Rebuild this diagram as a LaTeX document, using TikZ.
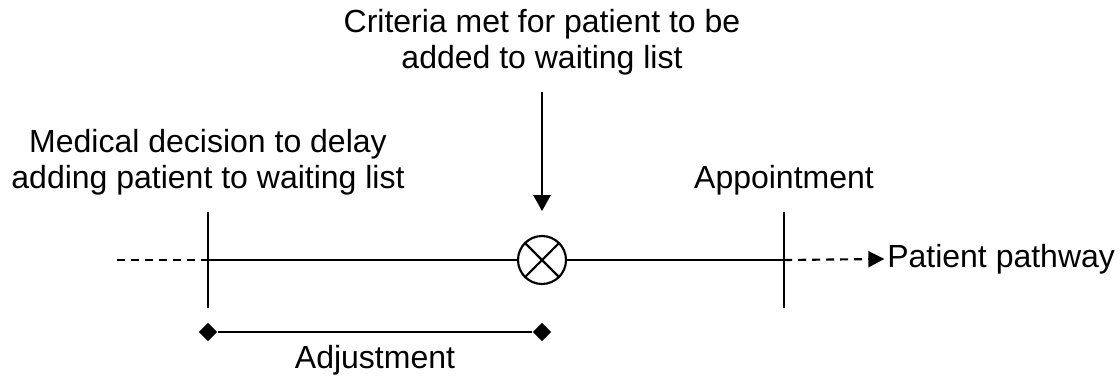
\documentclass[tikz,border=0pt]{standalone}
\usepackage{fontspec}
\setmainfont{Liberation Sans}
\usetikzlibrary{arrows.meta,shapes.geometric}
\begin{document}
\begin{tikzpicture}[x=0.75pt,y=-0.75pt,
  thick line/.style={line width=1.6pt},
  dashline/.style={line width=1.6pt, dash pattern=on 6pt off 4.5pt},
  lbl/.style={font=\fontsize{24}{27}\selectfont, align=center, inner sep=0pt},
  tick/.style={diamond, fill=black, inner sep=0pt, minimum width=14pt, minimum height=14pt},
  xcircle/.style={circle, draw, line width=1.6pt, minimum size=36pt, inner sep=0pt}]
\useasboundingbox (0,0) rectangle (1120,378);
% texts
\node[lbl] (crit) at (542,42) {Criteria met for patient to be\\added to waiting list};
\node[lbl] (med) at (208,162) {Medical decision to delay\\adding patient to waiting list};
\node[lbl] (app) at (784,180) {Appointment};
\node[lbl, anchor=west] (path) at (887,259) {Patient pathway};
\node[lbl] (adj) at (375,360) {Adjustment};
% timeline points
\coordinate (start) at (117,260);
\coordinate (L) at (208,260);
\coordinate (R) at (784,260);
\coordinate (Ltop) at (208,212);
\coordinate (Lbot) at (208,308);
\coordinate (Rtop) at (784,212);
\coordinate (Rbot) at (784,308);
\node[xcircle] (m) at (542,260) {};
\draw[thick line] (m.45) -- (m.225);
\draw[thick line] (m.135) -- (m.315);
% lines
\draw[dashline] (start) -- (L);
\draw[thick line] (L) -- (m.west);
\draw[thick line] (m.east) -- (R);
\draw[dashline, -{Triangle[width=12pt,length=12pt]}] (R) -- ([xshift=-2pt]path.west);
\draw[thick line] (Ltop) -- (Lbot);
\draw[thick line] (Rtop) -- (Rbot);
% arrow
\coordinate (a1) at (542,92);
\coordinate (a2) at (542,211);
\draw[thick line, -{Triangle[width=13pt,length=12pt]}] (a1) -- (a2);
% adjustment bracket
\node[tick] (d1) at (208,332) {};
\node[tick] (d2) at (542,332) {};
\draw[thick line] (d1) -- (d2);
\end{tikzpicture}
\end{document}
